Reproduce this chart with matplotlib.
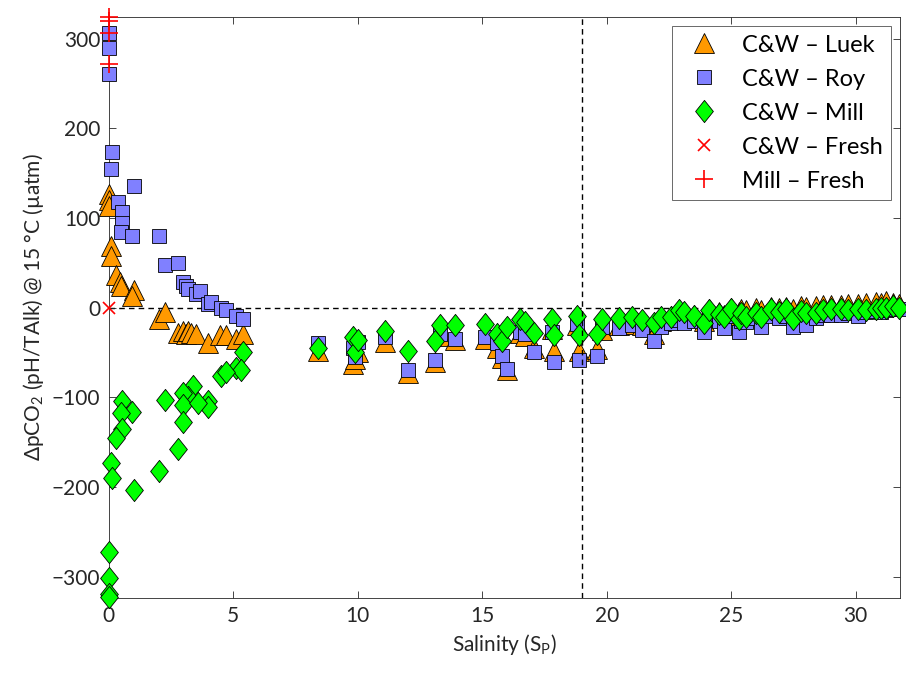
import matplotlib
matplotlib.use("Agg")
import matplotlib.pyplot as plt
from matplotlib.path import Path

plt.rcParams["font.family"] = ["Lato", "DejaVu Sans"]
plt.rcParams["mathtext.default"] = "regular"
plt.rcParams["font.size"] = 15

# low-salinity stations (salinity, delta pCO2 in uatm)
luek_low_sal = [0.0, 0.0, 0.0, 0.08, 0.08, 0.28, 0.45, 0.5, 1.0, 0.95, 2.0, 2.27,
                2.8, 3.0, 3.1, 3.2, 3.3, 3.5, 4.0, 4.45, 4.7, 5.1, 5.4]
luek_low_dp = [127, 120, 113, 69, 58, 36, 28, 24, 19, 13, -13, -5,
               -28, -26, -30, -26, -28, -29, -40, -31, -31, -35, -29]

roy_low_sal = [0.0, 0.0, 0.0, 0.12, 0.08, 1.0, 0.36, 0.52, 0.55, 0.48, 0.95, 2.0,
               2.27, 2.78, 3.0, 3.1, 3.2, 3.5, 3.66, 4.0, 4.1, 4.5, 4.7, 5.1, 5.4]
roy_low_dp = [306, 289, 261, 174, 154, 135, 118, 107, 94, 84, 80, 80,
              47, 50, 28, 24, 21, 15, 18, 4, 6, 0, -3, -9, -13]

mill_low_sal = [5.4, 5.1, 5.3, 4.5, 4.7, 4.0, 4.0, 3.4, 3.2, 3.0, 3.0, 3.0, 3.6,
                2.27, 2.8, 2.0, 1.0, 0.95, 0.55, 0.5, 0.55, 0.28, 0.08, 0.15,
                0.0, 0.0, 0.0, 0.0]
mill_low_dp = [-50, -67, -70, -76, -72, -104, -111, -88, -100, -95, -109, -128, -106,
               -103, -158, -182, -204, -117, -104, -118, -135, -146, -173, -190,
               -273, -302, -319, -323]

# shared stations above S = 8
sal_hi = [8.4, 9.8, 9.9, 10.0, 11.1, 12.0, 13.1, 13.3, 13.9, 15.1, 15.6, 15.8,
          16.0, 16.5, 16.7, 17.1, 17.8, 17.9, 18.8, 18.9, 19.6, 19.8, 20.5, 21.0,
          21.4, 21.9, 22.2, 22.6, 22.9, 23.1, 23.5, 23.9, 24.1, 24.5, 24.7, 25.0,
          25.3, 25.4, 25.6, 26.0, 26.2, 26.6, 26.9, 27.2, 27.5, 27.8, 28.0, 28.4,
          28.7, 29.0, 29.4, 29.7, 30.1, 30.4, 30.8, 31.0, 31.2, 31.5, 31.75]
luek_hi = [-48, -63, -57, -50, -38, -73, -61, -32, -36, -35, -45, -56,
           -70, -28, -32, -45, -24, -48, -20, -48, -46, -25, -20, -18,
           -20, -30, -15, -10, -3, -8, -8, -15, -2, -5, -8, -1,
           -5, -2, -3, 0, -3, 1, 0, 1, -2, 2, 1, 2,
           3, 3, 3, 4, 4, 5, 6, 5, 7, 5, 4]
roy_hi = [-40, -45, -55, -38, -33, -70, -59, -30, -35, -33, -40, -54,
          -68, -27, -30, -50, -27, -61, -18, -59, -54, -22, -23, -20,
          -25, -37, -22, -17, -14, -17, -15, -27, -12, -15, -23, -10,
          -27, -15, -16, -12, -22, -10, -12, -10, -22, -10, -20, -12,
          -8, -8, -8, -6, -10, -5, -4, -5, -3, -2, -2]
mill_hi = [-45, -33, -50, -36, -26, -48, -37, -20, -20, -18, -29, -37,
           -22, -13, -16, -28, -13, -31, -9, -31, -29, -13, -12, -11,
           -14, -17, -11, -11, -3, -5, -9, -17, -3, -7, -11, -2,
           -13, -6, -11, -6, -11, -2, -5, -2, -13, -4, -6, -6,
           -3, -2, -2, -3, -2, -3, -2, -1, 0, 2, 0]

cw_fresh_sal = [0.0]
cw_fresh_dp = [0]
mill_fresh_sal = [0.0, 0.0, 0.0, 0.0]
mill_fresh_dp = [324, 320, 306, 272]

# MATLAB-like diamond: a bit taller than wide
diamond = Path([(0, 1), (0.8, 0), (0, -1), (-0.8, 0), (0, 1)],
               [Path.MOVETO, Path.LINETO, Path.LINETO, Path.LINETO, Path.CLOSEPOLY])

fig = plt.figure(figsize=(9.06, 6.75), dpi=100)
ax = fig.add_axes([0.12, 0.114, 0.8734, 0.8608])

ax.axhline(0, color="k", ls="--", lw=1.0, dashes=(4, 3), zorder=1)

edge = dict(markeredgecolor="k", markeredgewidth=0.6, ls="none", clip_on=False)
ax.plot(luek_low_sal + sal_hi, luek_low_dp + luek_hi, "^", ms=14,
        markerfacecolor="#ff9900", label="C&W – Luek", zorder=3, **edge)
ax.plot(roy_low_sal + sal_hi, roy_low_dp + roy_hi, "s", ms=10.5,
        markerfacecolor="#8080ff", label="C&W – Roy", zorder=4, **edge)
ax.plot(mill_low_sal + sal_hi, mill_low_dp + mill_hi, marker=diamond, ms=16,
        markerfacecolor="#00ff00", label="C&W – Mill", zorder=5, **edge)
ax.plot(cw_fresh_sal, cw_fresh_dp, "x", ms=9, color="#ff0000", mew=1.2,
        ls="none", clip_on=False, label="C&W – Fresh", zorder=6)
ax.plot(mill_fresh_sal, mill_fresh_dp, "+", ms=13, color="#ff0000", mew=1.2,
        ls="none", clip_on=False, label="Mill – Fresh", zorder=6)

ax.axvline(19, color="k", ls="--", lw=1.0, dashes=(4, 3), zorder=7)

ax.set_xlim(0, 31.78)
ax.set_ylim(-324, 324)
ax.set_xticks([0, 5, 10, 15, 20, 25, 30])
ax.set_yticks([-300, -200, -100, 0, 100, 200, 300])
ax.tick_params(direction="in", top=True, right=True, length=5, width=0.6,
               color="#262626", labelsize=15, labelcolor="#262626", pad=6)
for s in ax.spines.values():
    s.set_color("#262626")
    s.set_linewidth(0.6)

ax.set_xlabel("Salinity (S$_P$)", fontsize=15, color="#262626", labelpad=4)
ax.set_ylabel("ΔpCO$_2$ (pH/TAlk) @ 15 °C (µatm)", fontsize=15, color="#262626",
              labelpad=4)

leg = ax.legend(loc="upper right", fontsize=17, frameon=True, fancybox=False,
                edgecolor="#262626", borderpad=0.35, handletextpad=0.6,
                labelspacing=0.55, borderaxespad=0.4, handlelength=2.0)
leg.get_frame().set_linewidth(0.6)

fig.savefig("out.png", dpi=100)
